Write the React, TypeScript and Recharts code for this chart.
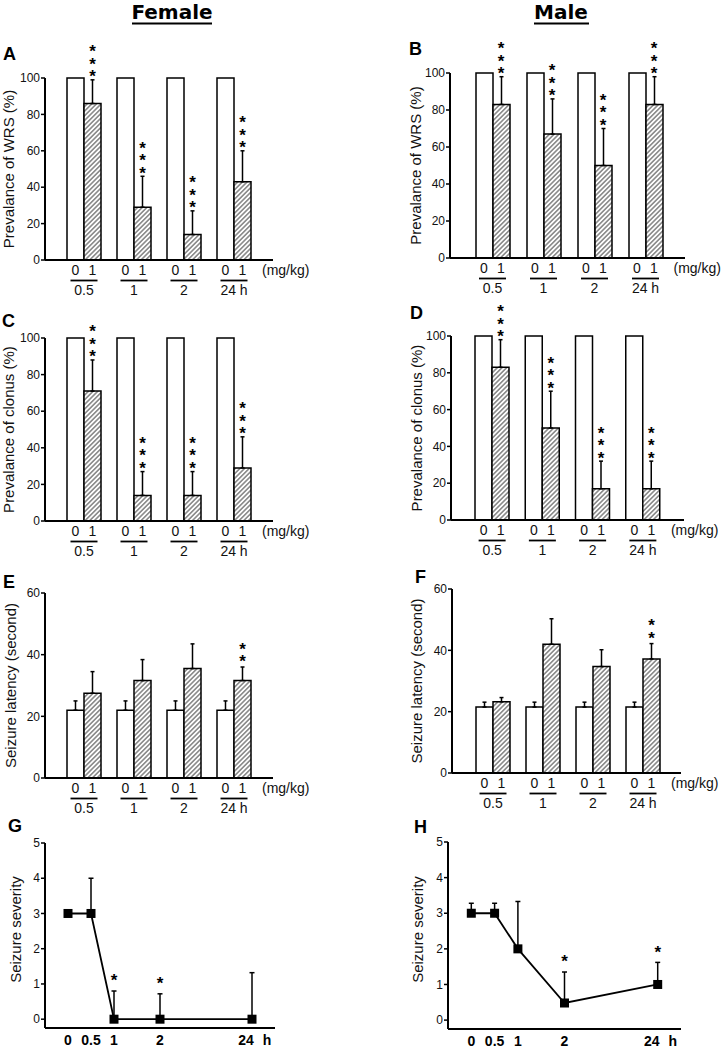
import React from 'react'
import {
  BarChart,
  Bar,
  LineChart,
  Line,
  XAxis,
  YAxis,
  ErrorBar,
  ReferenceDot,
} from 'recharts'

const FONT = '"Liberation Sans", Arial, Helvetica, sans-serif'

// time after injection (h), one group per time point
const timeGroups = ['0.5', '1', '2', '24 h']

// A: female, prevalence of WRS (%)
const wrsFemaleVehicle = [100, 100, 100, 100]
const wrsFemaleDrug = [86, 29, 14, 43]
const wrsFemaleDrugSem = [13, 17, 13, 17]
const wrsFemaleStars = ['***', '***', '***', '***']

// B: male, prevalence of WRS (%)
const wrsMaleVehicle = [100, 100, 100, 100]
const wrsMaleDrug = [83, 67, 50, 83]
const wrsMaleDrugSem = [15, 19, 20, 15]
const wrsMaleStars = ['***', '***', '***', '***']

// C: female, prevalence of clonus (%)
const clonusFemaleVehicle = [100, 100, 100, 100]
const clonusFemaleDrug = [71, 14, 14, 29]
const clonusFemaleDrugSem = [17, 13, 13, 17]
const clonusFemaleStars = ['***', '***', '***', '***']

// D: male, prevalence of clonus (%)
const clonusMaleVehicle = [100, 100, 100, 100]
const clonusMaleDrug = [83, 50, 17, 17]
const clonusMaleDrugSem = [15, 20, 15, 15]
const clonusMaleStars = ['***', '***', '***', '***']

// E: female, seizure latency (s)
const latencyFemaleVehicle = [22, 22, 22, 22]
const latencyFemaleVehicleSem = [3, 3, 3, 3]
const latencyFemaleDrug = [27.5, 31.6, 35.5, 31.6]
const latencyFemaleDrugSem = [7, 6.8, 8, 4.4]
const latencyFemaleStars = ['', '', '', '**']

// F: male, seizure latency (s)
const latencyMaleVehicle = [21.5, 21.5, 21.5, 21.5]
const latencyMaleVehicleSem = [1.6, 1.6, 1.6, 1.6]
const latencyMaleDrug = [23.2, 42, 34.7, 37.2]
const latencyMaleDrugSem = [1.4, 8.3, 5.5, 5]
const latencyMaleStars = ['', '', '', '**']

// G / H: seizure severity over time
const severityTimes = ['0', '0.5', '1', '2', '24']
const severityAxisPos = [0, 1, 2, 4, 8]
const severityFemale = [3, 3, 0, 0, 0]
const severityFemaleSem = [0, 1, 0.8, 0.72, 1.32]
const severityFemaleStars = ['', '', '*', '*', '']
const severityMale = [3, 3, 2, 0.48, 1]
const severityMaleSem = [0.28, 0.28, 1.33, 0.87, 0.62]
const severityMaleStars = ['', '', '', '*', '*']

function buildRows(vehicle: number[], drug: number[], drugSem: number[], vehicleSem?: number[]) {
  return timeGroups.map((t, i) => ({
    time: t,
    vehicle: vehicle[i],
    drug: drug[i],
    vehicleErr: [0, vehicleSem ? vehicleSem[i] : 0],
    drugErr: [0, drugSem[i]],
    top: drug[i] + drugSem[i],
  }))
}

// stacked asterisks as one vertical text; the bottom star sits about `gap` px above the error cap
const STAR_FS = 17
const STAR_STEP = 10.5
const starShape = (text: string, dx: number, gap: number) => (p: any) => {
  const n = text.length
  const x = p.cx + dx
  // top of the first em box so that the last star's centre lands at cy - gap
  const y = p.cy - gap - (n - 1) * STAR_STEP - 0.33 * STAR_FS
  return (
    <text
      x={x}
      y={y}
      fontSize={STAR_FS}
      fontWeight={700}
      fill="#000"
      fontFamily={FONT}
      style={{
        writingMode: 'vertical-rl',
        textOrientation: 'upright',
        letterSpacing: `${STAR_STEP - STAR_FS}px`,
      }}
    >
      {text}
    </text>
  )
}

const groupTick = (p: any) => (
  <g fontFamily={FONT} fontSize={14} fill="#111">
    <text x={p.x - 8.5} y={p.y + 15} textAnchor="middle">0</text>
    <text x={p.x + 8.5} y={p.y + 15} textAnchor="middle">1</text>
    <line x1={p.x - 13.5} x2={p.x + 13.5} y1={p.y + 20.5} y2={p.y + 20.5} stroke="#000" strokeWidth={1.8} />
    <text x={p.x} y={p.y + 35} textAnchor="middle">{p.payload.value}</text>
    {p.index === timeGroups.length - 1 && (
      <text x={p.x + 28} y={p.y + 15}>(mg/kg)</text>
    )}
  </g>
)

const timeTick = (p: any) => {
  const i = severityAxisPos.indexOf(p.payload.value)
  const label = severityTimes[i]
  const last = i === severityTimes.length - 1
  return (
    <g fontFamily={FONT} fontSize={14} fontWeight={700} fill="#000">
      <text x={p.x + (last ? -6 : 0)} y={p.y + 17} textAnchor="middle">{label}</text>
      {last && <text x={p.x + 15} y={p.y + 17} textAnchor="middle">h</text>}
    </g>
  )
}

const yLabel = (text: string, x: number, cy: number) => () => (
  <text
    x={x}
    y={cy}
    transform={`rotate(-90 ${x} ${cy})`}
    textAnchor="middle"
    dominantBaseline="central"
    fontSize={15}
    fill="#111"
    fontFamily={FONT}
  >
    {text}
  </text>
)

type Box = [number, number, number, number]

interface BarPanelProps {
  id: string
  box: Box // left, top, width, height on the page
  plot: Box // x0, y0, x1, y1 of the plot area on the page
  pad: [number, number]
  rows: ReturnType<typeof buildRows>
  stars: string[]
  domain: [number, number]
  ticks: number[]
  label: string
  labelX: number
  vehicleErr?: boolean
}

function BarPanel({ id, box, plot, pad, rows, stars, domain, ticks, label, labelX, vehicleErr }: BarPanelProps) {
  const [left, top, width, height] = box
  const [x0, y0, x1, y1] = plot
  const axisH = 45
  const mt = y0 - top
  const mb = top + height - y1 - axisH
  const cy = mt + (y1 - y0) / 2
  return (
    <div style={{ position: 'absolute', left, top, width, height }}>
      <BarChart
        width={width}
        height={height}
        data={rows}
        barGap={0}
        margin={{ top: mt, right: left + width - x1, bottom: mb, left: 0 }}
      >
        <defs>
          <pattern id={`hatch-${id}`} patternUnits="userSpaceOnUse" width={3.3} height={3.3} patternTransform="rotate(45)">
            <rect width={3.3} height={3.3} fill="#fff" />
            <line x1={1.65} y1={0} x2={1.65} y2={3.3} stroke="#444" strokeWidth={1} />
          </pattern>
        </defs>
        <XAxis
          dataKey="time"
          type="category"
          padding={{ left: pad[0], right: pad[1] }}
          height={axisH}
          interval={0}
          tickLine={false}
          tickSize={0}
          tickMargin={0}
          axisLine={{ stroke: '#000', strokeWidth: 2 }}
          tick={groupTick}
        />
        <YAxis
          type="number"
          domain={domain}
          ticks={ticks}
          interval={0}
          width={x0 - left}
          tickSize={4}
          tickMargin={1}
          axisLine={{ stroke: '#000', strokeWidth: 2 }}
          tickLine={{ stroke: '#000', strokeWidth: 1.5 }}
          tick={{ fill: '#111', fontSize: 12, fontFamily: FONT }}
          label={yLabel(label, labelX, cy)}
        />
        <Bar dataKey="vehicle" fill="#fff" stroke="#000" strokeWidth={1.5} barSize={17} isAnimationActive={false}>
          {vehicleErr && <ErrorBar dataKey="vehicleErr" width={2} stroke="#000" strokeWidth={1.5} direction="y" />}
        </Bar>
        <Bar dataKey="drug" fill={`url(#hatch-${id})`} stroke="#000" strokeWidth={1.5} barSize={17} isAnimationActive={false}>
          <ErrorBar dataKey="drugErr" width={2} stroke="#000" strokeWidth={1.5} direction="y" />
        </Bar>
        {rows.map((r, i) =>
          stars[i] ? (
            <ReferenceDot
              key={i}
              x={r.time}
              y={r.top}
              r={0}
              ifOverflow="visible"
              shape={starShape(stars[i], 8.5, 11)}
            />
          ) : null,
        )}
      </BarChart>
    </div>
  )
}

interface LinePanelProps {
  box: Box
  plot: Box
  values: number[]
  sems: number[]
  stars: string[]
  labelX: number
}

function SeverityPanel({ box, plot, values, sems, stars, labelX }: LinePanelProps) {
  const [left, top, width, height] = box
  const [x0, y0, x1, y1] = plot
  const axisH = 20
  const mt = y0 - top
  const mb = top + height - y1 - axisH
  const cy = mt + (y1 - y0) / 2 - 6
  const rows = severityTimes.map((t, i) => ({
    time: t,
    pos: severityAxisPos[i],
    sev: values[i],
    sevErr: [0, sems[i]],
  }))
  return (
    <div style={{ position: 'absolute', left, top, width, height }}>
      <LineChart
        width={width}
        height={height}
        data={rows}
        margin={{ top: mt, right: left + width - x1, bottom: mb, left: 0 }}
      >
        <XAxis
          dataKey="pos"
          type="number"
          domain={[-1, 9]}
          ticks={severityAxisPos}
          interval={0}
          height={axisH}
          tickLine={false}
          tickSize={0}
          tickMargin={0}
          axisLine={{ stroke: '#000', strokeWidth: 2 }}
          tick={timeTick}
        />
        <YAxis
          type="number"
          domain={[-0.25, 5]}
          ticks={[0, 1, 2, 3, 4, 5]}
          interval={0}
          width={x0 - left}
          tickSize={4}
          tickMargin={1}
          axisLine={{ stroke: '#000', strokeWidth: 2 }}
          tickLine={{ stroke: '#000', strokeWidth: 1.5 }}
          tick={{ fill: '#111', fontSize: 12, fontFamily: FONT }}
          label={yLabel('Seizure severity', labelX, cy)}
        />
        <Line
          type="linear"
          dataKey="sev"
          stroke="#000"
          strokeWidth={1.8}
          isAnimationActive={false}
          dot={(p: any) => (
            <rect key={`d${p.index}`} x={p.cx - 4.5} y={p.cy - 4.5} width={9} height={9} fill="#000" />
          )}
          activeDot={false}
        >
          <ErrorBar dataKey="sevErr" width={2.5} stroke="#000" strokeWidth={1.5} direction="y" />
        </Line>
        {rows.map((r, i) =>
          stars[i] ? (
            <ReferenceDot
              key={i}
              x={r.pos}
              y={values[i] + sems[i]}
              r={0}
              ifOverflow="visible"
              shape={starShape(stars[i], 0, 14)}
            />
          ) : null,
        )}
      </LineChart>
    </div>
  )
}

const panelLetters = [
  { t: 'A', x: 3, y: 60 },
  { t: 'B', x: 409, y: 55 },
  { t: 'C', x: 2, y: 327 },
  { t: 'D', x: 410, y: 319 },
  { t: 'E', x: 3, y: 588 },
  { t: 'F', x: 415, y: 583 },
  { t: 'G', x: 8, y: 832 },
  { t: 'H', x: 414, y: 833 },
]

export default function App() {
  return (
    <div style={{ position: 'absolute', left: 0, top: 0, width: 723, height: 1050, background: '#fff', fontFamily: FONT }}>
      <BarPanel
        id="a"
        box={[0, 30, 330, 280]}
        plot={[45, 78, 273, 260]}
        pad={[14, 14]}
        rows={buildRows(wrsFemaleVehicle, wrsFemaleDrug, wrsFemaleDrugSem)}
        stars={wrsFemaleStars}
        domain={[0, 100]}
        ticks={[0, 20, 40, 60, 80, 100]}
        label="Prevalance of WRS (%)"
        labelX={8}
      />
      <BarPanel
        id="b"
        box={[362, 30, 361, 280]}
        plot={[450, 73, 685, 258]}
        pad={[17, 14]}
        rows={buildRows(wrsMaleVehicle, wrsMaleDrug, wrsMaleDrugSem)}
        stars={wrsMaleStars}
        domain={[0, 100]}
        ticks={[0, 20, 40, 60, 80, 100]}
        label="Prevalance of WRS (%)"
        labelX={53}
      />
      <BarPanel
        id="c"
        box={[0, 300, 330, 270]}
        plot={[45, 338, 273, 521]}
        pad={[14, 14]}
        rows={buildRows(clonusFemaleVehicle, clonusFemaleDrug, clonusFemaleDrugSem)}
        stars={clonusFemaleStars}
        domain={[0, 100]}
        ticks={[0, 20, 40, 60, 80, 100]}
        label="Prevalance of clonus (%)"
        labelX={8}
      />
      <BarPanel
        id="d"
        box={[362, 300, 361, 270]}
        plot={[451, 336, 684, 520]}
        pad={[16, 16]}
        rows={buildRows(clonusMaleVehicle, clonusMaleDrug, clonusMaleDrugSem)}
        stars={clonusMaleStars}
        domain={[0, 100]}
        ticks={[0, 20, 40, 60, 80, 100]}
        label="Prevalance of clonus (%)"
        labelX={54}
      />
      <BarPanel
        id="e"
        box={[0, 560, 330, 270]}
        plot={[45, 593, 273, 778]}
        pad={[14, 14]}
        rows={buildRows(latencyFemaleVehicle, latencyFemaleDrug, latencyFemaleDrugSem, latencyFemaleVehicleSem)}
        stars={latencyFemaleStars}
        domain={[0, 60]}
        ticks={[0, 20, 40, 60]}
        label="Seizure latency (second)"
        labelX={10}
        vehicleErr
      />
      <BarPanel
        id="f"
        box={[362, 560, 361, 270]}
        plot={[452, 589, 681, 773]}
        pad={[16, 13]}
        rows={buildRows(latencyMaleVehicle, latencyMaleDrug, latencyMaleDrugSem, latencyMaleVehicleSem)}
        stars={latencyMaleStars}
        domain={[0, 60]}
        ticks={[0, 20, 40, 60]}
        label="Seizure latency (second)"
        labelX={54}
        vehicleErr
      />
      <SeverityPanel
        box={[0, 810, 330, 240]}
        plot={[45, 843, 275, 1028]}
        values={severityFemale}
        sems={severityFemaleSem}
        stars={severityFemaleStars}
        labelX={15}
      />
      <SeverityPanel
        box={[362, 810, 361, 240]}
        plot={[448, 842, 681, 1029]}
        values={severityMale}
        sems={severityMaleSem}
        stars={severityMaleStars}
        labelX={55}
      />
      <svg width={723} height={1050} style={{ position: 'absolute', left: 0, top: 0, pointerEvents: 'none' }}>
        <g fontFamily='"DejaVu Sans", sans-serif' fontWeight={700} fontSize={20} fill="#000">
          <text x={172} y={19} textAnchor="middle">Female</text>
          <text x={561} y={19} textAnchor="middle">Male</text>
        </g>
        <line x1={132} x2={212} y1={23.5} y2={23.5} stroke="#000" strokeWidth={1.8} />
        <line x1={534} x2={589} y1={23.5} y2={23.5} stroke="#000" strokeWidth={1.8} />
        <g fontFamily={FONT} fontWeight={700} fontSize={18} fill="#000">
          {panelLetters.map((l) => (
            <text key={l.t} x={l.x} y={l.y}>{l.t}</text>
          ))}
        </g>
      </svg>
    </div>
  )
}
